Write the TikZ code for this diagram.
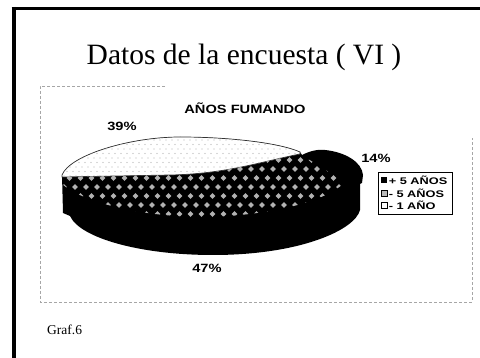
\documentclass[tikz,border=0pt]{standalone}
\usepackage{fontspec}
\setmainfont{Liberation Serif}
\setsansfont{Liberation Sans}
\begin{document}
\begin{tikzpicture}[x=1pt,y=-1pt,
  lbl/.style={font=\sffamily\bfseries\fontsize{12}{13}\selectfont, xscale=1.22, inner sep=0pt},
  leg/.style={font=\sffamily\bfseries\fontsize{9.6}{10}\selectfont, xscale=1.33, inner sep=0pt, anchor=west},
  frameline/.style={densely dashed, gray!70, line width=0.6pt},
  legmark/.style={draw=black, line width=0.5pt}]
\useasboundingbox (0,0) rectangle (480,358);
\fill[white] (0,0) rectangle (480,358);
% outer frame
\draw[line width=4pt] (13.7,7) -- (13.7,358);
\draw[line width=2.6pt] (11.7,8.7) -- (480,8.7);
% chart frame (visible parts)
\draw[frameline] (165,86) -- (40,86) -- (40,302) -- (472,302) -- (472,138);
% title
\node[font=\fontsize{29.5}{32}\selectfont, inner sep=0pt] (title) at (244,57) {Datos de la encuesta ( VI )};
\node[lbl] (ctitle) at (245,108) {AÑOS FUMANDO};
% pie silhouette
\fill[black] (62,175) .. controls (70,155) and (130,137) .. (180,137)
  .. controls (230,137) and (280,143) .. (300,152) -- (302,155)
  .. controls (310,151) and (318,149) .. (325,150)
  .. controls (345,152) and (362,162) .. (363,175) -- (362,183) -- (360,184) -- (360,210)
  .. controls (355,230) and (300,255) .. (213,255)
  .. controls (140,255) and (80,238) .. (70,216) -- (63,213) -- cycle;
% white slice
\fill[white, draw=black!80, line width=0.7pt] (62,175) .. controls (70,155) and (130,137) .. (180,137)
  .. controls (230,137) and (280,143) .. (300,152) -- (300,154)
  .. controls (260,162) and (225,174) .. (170,175) -- (62,177) -- cycle;
\begin{scope}
\clip (62,175) .. controls (70,155) and (130,137) .. (180,137)
  .. controls (230,137) and (280,143) .. (300,152) -- (300,154)
  .. controls (260,162) and (225,174) .. (170,175) -- (62,177) -- cycle;
\foreach \r in {0,...,8} {
  \foreach \c in {0,...,40} {
    \fill[gray!60] ({64+\c*6+mod(\r,2)*3},{140+\r*4.5}) circle (0.55);
  }
}
\end{scope}
% gray diamond slice
\begin{scope}
\clip (300,154) .. controls (260,162) and (225,174) .. (170,175) -- (62,177) -- (62,184)
  .. controls (80,200) and (130,215) .. (195,217)
  .. controls (240,218) and (320,208) .. (345,182) -- cycle;
\foreach \r in {0,...,8} {
  \foreach \c in {0,...,28} {
    \fill[gray!60] ({64+\c*11+mod(\r,2)*5.5},{151+\r*9}) +(-2.8,0) -- +(0,-2.8) -- +(2.8,0) -- +(0,2.8) -- cycle;
  }
}
\end{scope}
% labels
\node[lbl] (p39) at (122,126) {39\%};
\node[lbl] (p14) at (376,158) {14\%};
\node[lbl] (p47) at (207,268) {47\%};
% legend
\draw[line width=0.6pt] (378,172) rectangle (452,214);
\fill[black] (381,177) rectangle (387,183);
\draw[legmark, fill=gray!55] (381,190) rectangle (387,196);
\draw[legmark, fill=white] (381,202) rectangle (387,208);
\node[leg] (l1) at (388.5,180) {+ 5 AÑOS};
\node[leg] (l2) at (388.5,193) {- 5 AÑOS};
\node[leg] (l3) at (388.5,205) {- 1 AÑO};
% caption
\node[font=\fontsize{13.5}{15}\selectfont, inner sep=0pt, anchor=west] (graf) at (47,330) {Graf.6};
\end{tikzpicture}
\end{document}
